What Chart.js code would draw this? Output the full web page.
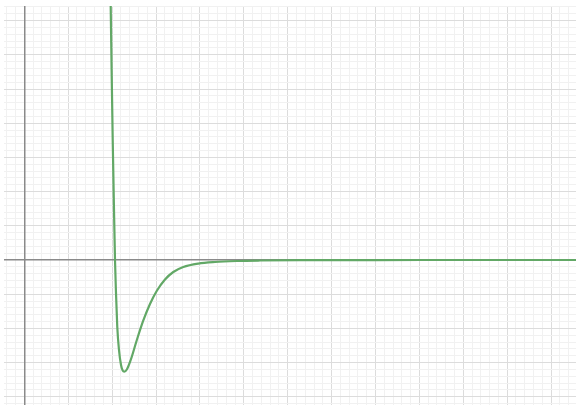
<!DOCTYPE html>
<html>
<head>
<meta charset="utf-8">
<script src="https://cdn.jsdelivr.net/npm/chart.js@4"></script>
<style>
  html, body { margin: 0; padding: 0; background: #fff; }
  #wrap { width: 576px; height: 405px; }
</style>
</head>
<body>
<div id="wrap"><canvas id="chart" width="576" height="405"></canvas></div>
<script>
// ---------------- Data (in grid units) ----------------
const CURVE_X = [1.961, 1.968, 1.989, 2.014, 2.039, 2.066, 2.089, 2.118, 2.157, 2.203, 2.241, 2.278,
                 2.339, 2.424, 2.560, 2.711, 2.863, 3.016, 3.205, 3.394, 3.622, 3.964, 4.344, 4.838,
                 5.369, 6.280, 8.0, 12.6];
const CURVE_Y = [7.895, 7.427, 5.556, 3.509, 1.754, 0, -0.965, -1.959, -2.632, -3.070, -3.231, -3.266,
                 -3.196, -2.924, -2.354, -1.769, -1.287, -0.906, -0.570, -0.351, -0.205, -0.105, -0.058, -0.029,
                 -0.015, -0.004, -0.001, 0];
const X_RANGE = [-0.4624, 12.567];
const Y_RANGE = [-4.240, 7.427];
const MINOR_STEP = 0.2;
const AXIS_TICKS = [0];

// ---------------- Helpers ----------------
const isMult = (v, s) => Math.abs(v / s - Math.round(v / s)) < 1e-6;

function stepTicks(min, max, step) {
  const out = [];
  for (let k = Math.ceil(min / step); k * step <= max; k++) out.push({ value: +(k * step).toFixed(6) });
  return out;
}

function gridColor(ctx) {
  const v = ctx.tick.value;
  if (isMult(v, 1)) return "#dcdcdc";
  if (isMult(v, MINOR_STEP)) return "#f1f1f1";
  return "transparent";
}

function gridScale(axis, range) {
  return {
    type: "linear", axis, min: range[0], max: range[1],
    ticks: { display: false },
    border: { display: false },
    grid: { color: gridColor, lineWidth: 1, drawTicks: false },
    afterBuildTicks: s => { s.ticks = stepTicks(range[0], range[1], MINOR_STEP); }
  };
}

function axisScale(axis, range) {
  return {
    type: "linear", axis, min: range[0], max: range[1],
    ticks: { display: false },
    border: { display: false },
    grid: { color: "#8a8a8a", lineWidth: 1.5, drawTicks: false },
    afterBuildTicks: s => { s.ticks = AXIS_TICKS.map(v => ({ value: v })); }
  };
}

// ---------------- Chart ----------------
new Chart(document.getElementById("chart"), {
  type: "line",
  data: {
    datasets: [{
      data: CURVE_X.map((x, i) => ({ x, y: CURVE_Y[i] })),
      borderColor: "#62a866",
      borderWidth: 2.2,
      pointRadius: 0,
      fill: false,
      cubicInterpolationMode: "monotone",
      clip: 0
    }]
  },
  options: {
    responsive: false,
    animation: false,
    layout: { padding: { left: 4, top: 6, right: 0, bottom: 0 } },
    scales: {
      x: gridScale("x", X_RANGE),
      y: gridScale("y", Y_RANGE),
      xAxis: axisScale("x", X_RANGE),
      yAxis: axisScale("y", Y_RANGE)
    },
    plugins: { legend: { display: false }, tooltip: { enabled: false } }
  }
});
</script>
</body>
</html>
